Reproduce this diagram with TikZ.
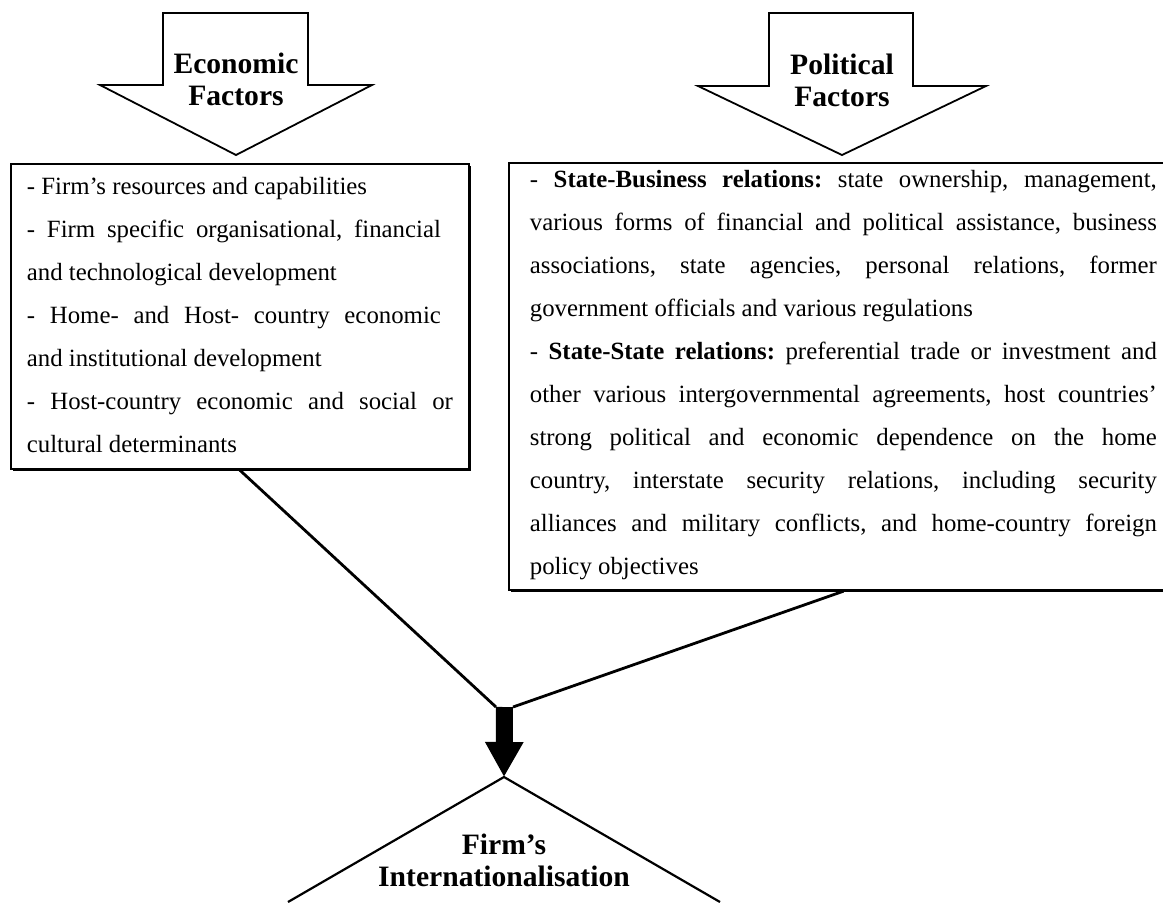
\documentclass[tikz,border=0pt]{standalone}
\usepackage{fontspec}
\setmainfont{Liberation Serif}
\usetikzlibrary{arrows.meta,shadows}
\setlength{\parindent}{0pt}
\hyphenpenalty=10000 \exhyphenpenalty=10000
\frenchspacing
\begin{document}
\begin{tikzpicture}[x=0.5pt,y=-0.5pt,
  factor/.style={font=\fontsize{14.8}{16}\selectfont\bfseries, align=center},
  listbox/.style={draw, line width=0.9pt, fill=white, anchor=north west, align=justify,
    font=\fontsize{12.4}{21.5}\selectfont,
    drop shadow={shadow xshift=1pt, shadow yshift=-1pt, opacity=1, fill=black}},
  link/.style={line width=1.4pt}]
\useasboundingbox (0,0) rectangle (1163,902);
% block arrows on top
\draw[line width=0.9pt] (163,13) -- (308,13) -- (308,85) -- (372,85) -- (236,155) -- (100,85) -- (163,85) -- cycle;
\draw[line width=0.9pt] (769,13) -- (913,13) -- (913,86) -- (986,86) -- (842,155) -- (698,86) -- (769,86) -- cycle;
\node[factor] (econ) at (236,79) {Economic\\Factors};
\node[factor] (poli) at (842,80) {Political\\Factors};
% factor lists (the rules only deepen the last line)
\node[listbox, text width=213pt, inner xsep=8pt, inner ysep=6.6pt] (econbox) at (10,163) {%
\rightskip=6pt\relax
- Firm's resources and capabilities\par
- Firm specific organisational, financial\linebreak
and technological development\par
- Home- and Host- country economic\linebreak
and institutional development\par
- Host-country economic and social or\linebreak
cultural determinants\rule[-1.9pt]{0pt}{1.9pt}};
\node[listbox, text width=313.5pt, inner xsep=10.5pt, inner ysep=3.6pt] (polbox) at (508,162) {%
- \textbf{State-Business relations:} state ownership, management,\linebreak
various forms of financial and political assistance, business\linebreak
associations, state agencies, personal relations, former\linebreak
government officials and various regulations\par
- \textbf{State-State relations:} preferential trade or investment and\linebreak
other various intergovernmental agreements, host countries'\linebreak
strong political and economic dependence on the home\linebreak
country, interstate security relations, including security\linebreak
alliances and military conflicts, and home-country foreign\linebreak
policy objectives\rule[-4.4pt]{0pt}{4.4pt}};
% joining lines and result
\coordinate (jl) at (496,707); \coordinate (jr) at (513,707);
\coordinate (join) at (504.5,707); \coordinate (apex) at (504,777);
\draw[link] (econbox.south) -- (jl); \draw[link] (polbox.south) -- (jr);
\draw[line width=1.1pt] (288,902) -- (apex) -- (720,902);
\draw[line width=8.5pt, -{Triangle[width=18pt,length=17.5pt]}] (join) -- (apex);
\node[factor] (firm) at (504,860) {Firm's\\Internationalisation};
\end{tikzpicture}
\end{document}
